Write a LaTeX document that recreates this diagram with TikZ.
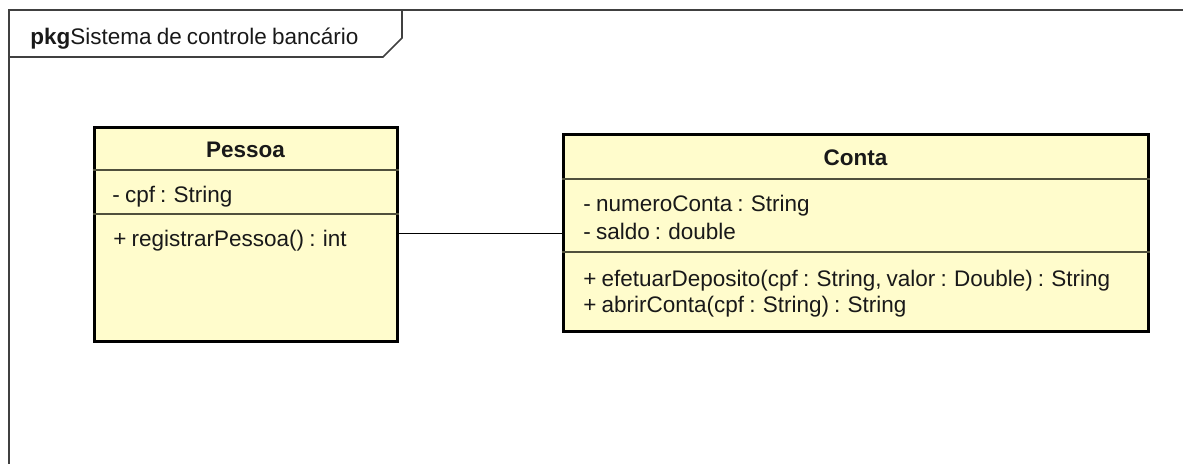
\documentclass[tikz,border=0pt]{standalone}
\usepackage{fontspec}
\setmainfont[WordSpace=0.82]{Liberation Sans}
\definecolor{classfill}{RGB}{255,252,204}
\definecolor{sepline}{RGB}{80,80,60}

\begin{document}
\begin{tikzpicture}[x=0.5pt,y=-0.5pt,
    every node/.style={font=\fontsize{11.25}{13}\selectfont, inner sep=0pt, text=black!90},
    frame/.style={draw=black!75, line width=0.8pt},
    classbox/.style={draw=black, line width=1.5pt, fill=classfill, rectangle},
    sep/.style={draw=sepline, line width=0.7pt},
    member/.style={anchor=base west},
    classname/.style={anchor=base, font=\fontsize{11.25}{13}\selectfont\bfseries}]
  \useasboundingbox (0,0) rectangle (1183,464);

  % package frame and its tab
  \draw[frame] (9,464) -- (9,10) -- (1183,10);
  \draw[frame] (9,57) -- (383,57) -- (402,38) -- (402,10);
  \node[anchor=base west] (pkglabel) at (30,45) {\textbf{pkg}Sistema de controle bancário};

  % classes
  \node[classbox, minimum width=151.5pt, minimum height=107pt] (pessoa) at (245.5,235) {};
  \node[classbox, minimum width=292.5pt, minimum height=98.5pt] (conta) at (855.5,233.5) {};
  \draw[sep] (pessoa.west |- 0,170) -- (pessoa.east |- 0,170);
  \draw[sep] (pessoa.west |- 0,214) -- (pessoa.east |- 0,214);
  \draw[sep] (conta.west |- 0,179) -- (conta.east |- 0,179);
  \draw[sep] (conta.west |- 0,252) -- (conta.east |- 0,252);

  \node[classname] (pessoaname) at (pessoa.center |- 0,158) {Pessoa};
  \node[member] (cpf) at (112,203) {- cpf : String};
  \node[member] (registrar) at (113,247) {+ registrarPessoa() : int};

  \node[classname] (contaname) at (conta.center |- 0,166) {Conta};
  \node[member] (numero) at (583,212) {- numeroConta : String};
  \node[member] (saldo) at (583,240) {- saldo : double};
  \node[member] (deposito) at (583,287) {+ efetuarDeposito(cpf : String, valor : Double) : String};
  \node[member] (abrir) at (583,313) {+ abrirConta(cpf : String) : String};

  % association
  \draw[line width=0.7pt] (pessoa.east |- conta.west) -- (conta.west);
\end{tikzpicture}
\end{document}
